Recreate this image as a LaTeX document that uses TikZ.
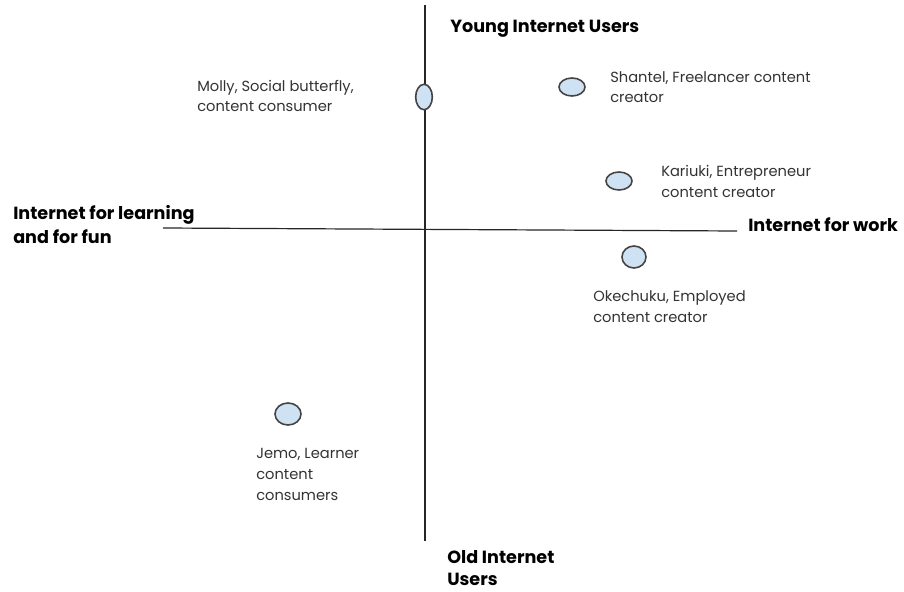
\documentclass[tikz,border=0pt]{standalone}
\usepackage{fontspec}
\setmainfont{Poppins}
\usetikzlibrary{shapes.geometric}
\definecolor{dotfill}{HTML}{CFE2F3}
\definecolor{dotline}{HTML}{444444}
\definecolor{labeltext}{HTML}{333333}
\tikzset{
  dot/.style={ellipse, draw=dotline, line width=1.2pt, fill=dotfill, inner sep=0pt},
  persona/.style={anchor=base west, align=left, text=labeltext, font=\fontsize{11}{15.5}\selectfont, inner sep=0pt},
  axislabel/.style={anchor=base west, align=left, font=\bfseries\fontsize{13.2}{17.5}\selectfont, inner sep=0pt},
  axis/.style={draw=black!85, line width=0.9pt}
}
\begin{document}
\begin{tikzpicture}[x=0.75pt,y=-0.75pt]
\useasboundingbox[fill=white] (0,0) rectangle (904,592);

% axes
\coordinate (ytop) at (425,5);
\coordinate (ybot) at (425,541);
\coordinate (xleft) at (163,228);
\coordinate (xright) at (737,231);
\draw[axis] (ytop) -- (ybot);
\draw[axis] (xleft) -- (xright);

% axis labels (anchored at the baseline of the last line)
\node[axislabel] (young) at (450,33) {Young Internet Users};
\node[axislabel, font=\bfseries\fontsize{13.2}{16.5}\selectfont] (old) at (447,585) {Old Internet\\Users};
\node[axislabel] (learn) at (13,243) {Internet for learning\\and for fun};
\node[axislabel] (work) at (748,231) {Internet for work};

% personas
\node[dot, minimum width=12.5pt, minimum height=19pt] (molly) at (424,97) {};
\node[persona] (mollyt) at (197,112) {Molly, Social butterfly,\\content consumer};

\node[dot, minimum width=19.5pt, minimum height=13.5pt] (shantel) at (572,87) {};
\node[persona] (shantelt) at (610,103) {Shantel, Freelancer content\\creator};

\node[dot, minimum width=19.5pt, minimum height=13.5pt] (kariuki) at (619,181) {};
\node[persona] (kariukit) at (661,197) {Kariuki, Entrepreneur\\content creator};

\node[dot, minimum width=18pt, minimum height=16.5pt] (okechuku) at (634,257) {};
\node[persona] (okechukut) at (593,322) {Okechuku, Employed\\content creator};

\node[dot, minimum width=19.5pt, minimum height=16.5pt] (jemo) at (288,414) {};
\node[persona] (jemot) at (256,500) {Jemo, Learner\\content\\consumers};
\end{tikzpicture}
\end{document}
